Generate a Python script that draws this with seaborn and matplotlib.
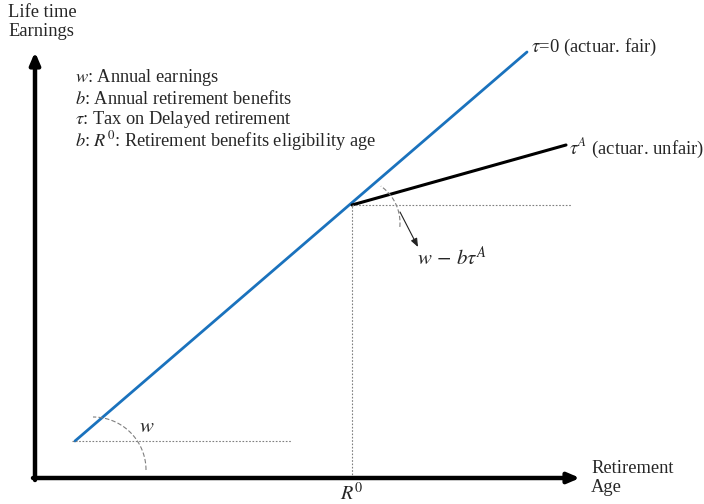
import numpy as np
import pandas as pd
import matplotlib
matplotlib.use("Agg")
import matplotlib.pyplot as plt
import seaborn as sns

# ---- diagram data (units: origin at axes corner) ----
fair_x = [40, 492]          # tau = 0 (actuarially fair) line
fair_y = [37, 426]
unfair_x = [317, 531]       # tau^A (actuarially unfair) line
unfair_y = [273, 333]
R0 = 317                    # eligibility age
kink_y = 273
w_start_y = 37
axis_x_end = 545
axis_y_end = 426
legend_lines = [r"$w$: Annual earnings",
                r"$b$: Annual retirement benefits",
                r"$\tau$: Tax on Delayed retirement",
                r"$b$: $R^0$: Retirement benefits eligibility age"]

sns.set_style("white")
plt.rcParams['font.family'] = ['Liberation Serif', 'DejaVu Serif']
plt.rcParams['mathtext.fontset'] = 'stix'

fig = plt.figure(figsize=(7.04, 5.04), dpi=100)
ax = fig.add_axes([0, 0, 1, 1])
ax.set_xlim(-35, 669)
ax.set_ylim(-26, 478)
ax.axis('off')

blue = "#1A72BD"
gray = "#7F7F7F"

# axes arrows
ax.annotate("", xy=(0, axis_y_end), xytext=(0, -2),
            arrowprops=dict(arrowstyle="-|>,head_length=0.7,head_width=0.3", lw=3.2, color="black",
                            shrinkA=0, shrinkB=0))
ax.annotate("", xy=(axis_x_end, 0), xytext=(-2, 0),
            arrowprops=dict(arrowstyle="-|>,head_length=0.7,head_width=0.3", lw=3.2, color="black",
                            shrinkA=0, shrinkB=0))

# main lines
sns.lineplot(x=fair_x, y=fair_y, ax=ax, color=blue, lw=2.0, sort=False)
sns.lineplot(x=unfair_x, y=unfair_y, ax=ax, color="black", lw=2.2, sort=False)

# dotted guides
ax.plot([R0, 537], [kink_y, kink_y], ls=(0, (1.5, 1.5)), color=gray, lw=0.8)
ax.plot([R0, R0], [0, kink_y], ls=(0, (1.5, 1.5)), color=gray, lw=0.8)
ax.plot([37, 257], [w_start_y, w_start_y], ls=(0, (1.5, 1.5)), color=gray, lw=0.8)

# arcs
t = np.linspace(0, np.pi / 2, 60)
ax.plot(58 + 53 * np.cos(t), 8 + 53 * np.sin(t), ls=(0, (4, 2)), color=gray, lw=0.8)
t2 = np.linspace(np.deg2rad(-5), np.deg2rad(55), 60)
ax.plot(320 + 45 * np.cos(t2), 255 + 45 * np.sin(t2), ls=(0, (4, 2)), color=gray, lw=0.8)
ax.annotate("", xy=(383, 231), xytext=(365, 266),
            arrowprops=dict(arrowstyle="-|>,head_length=0.5,head_width=0.2", lw=0.8, color="#222222",
                            shrinkA=0, shrinkB=0))

# texts
ax.text(-27, 474, "Life time\nEarnings", fontsize=13.3, va="top", ha="left", linespacing=1.15)
ax.text(556, 0, "Retirement\nAge", fontsize=13.3, va="center", ha="left", linespacing=1.15)
for i, s in enumerate(legend_lines):
    ax.text(40, 401 - i * 21.5, s, fontsize=13.2, va="center", ha="left")
ax.text(496, 431, r"$\tau$=0 (actuar. fair)", fontsize=13.4, va="center", ha="left")
ax.text(534, 330, r"$\tau^A$ (actuar. unfair)", fontsize=13.4, va="center", ha="left")
ax.text(382, 220, r"$w\,-\,b\tau^A$", fontsize=15, va="center", ha="left")
ax.text(112, 50, r"$w$", fontsize=15, va="center", ha="center")
ax.text(317, -16, r"$R^0$", fontsize=14.5, va="center", ha="center")

fig.savefig("out.png", dpi=100)
